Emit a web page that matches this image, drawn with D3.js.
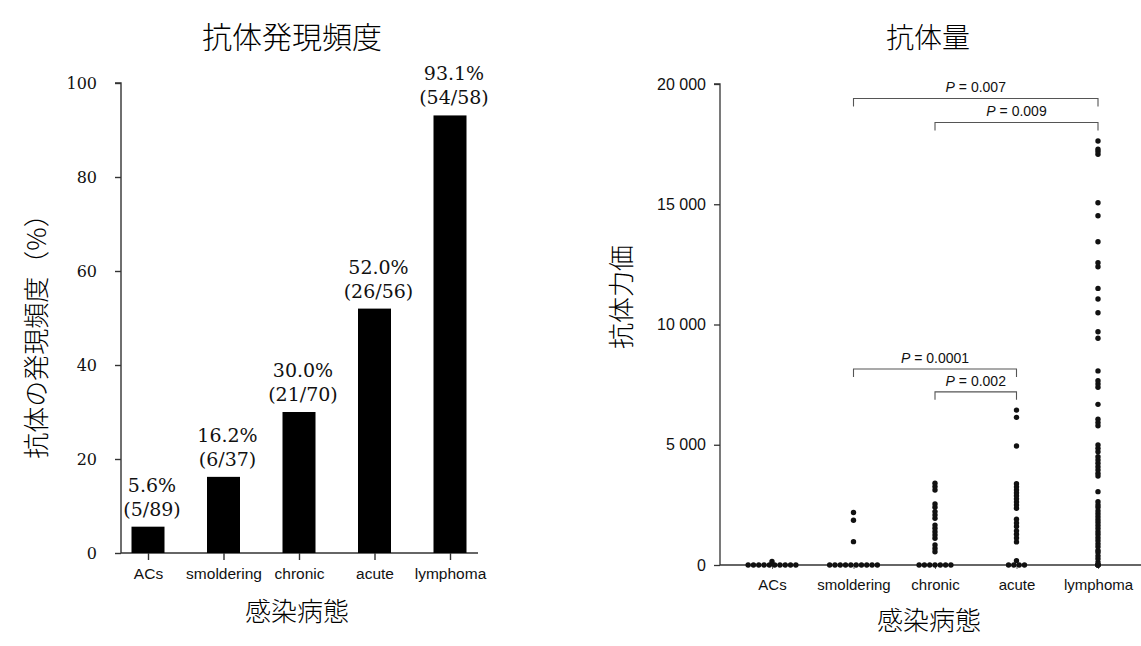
<!DOCTYPE html>
<html>
<head>
<meta charset="utf-8">
<script src="https://cdn.jsdelivr.net/npm/d3@7"></script>
<style>
  body { margin: 0; background: #fff; }
  svg { display: block; }
</style>
</head>
<body>
<svg width="1141" height="646"></svg>
<script>
// left: antibody frequency by disease type
const freqCategories = ["ACs", "smoldering", "chronic", "acute", "lymphoma"];
const freqValues = [5.6, 16.2, 30.0, 52.0, 93.1];
const freqPercentLabels = ["5.6%", "16.2%", "30.0%", "52.0%", "93.1%"];
const freqCountLabels = ["(5/89)", "(6/37)", "(21/70)", "(26/56)", "(54/58)"];
const freqTicks = [0, 20, 40, 60, 80, 100];

// right: antibody titer per patient
const titerCategories = ["ACs", "smoldering", "chronic", "acute", "lymphoma"];
const titerTicks = [0, 5000, 10000, 15000, 20000];
const titerACs = [0, 0, 0, 0, 0, 0, 0, 0, 0, 0, 150];
const titerSmoldering = [0, 0, 0, 0, 0, 0, 0, 0, 0, 0, 970, 1860, 2180];
const titerChronic = [0, 0, 0, 0, 0, 0, 0, 550, 690, 830, 1110, 1250, 1380, 1530, 1660,
  1940, 2080, 2220, 2400, 2540, 3120, 3260, 3400];
const titerAcute = [0, 0, 0, 0, 180, 960, 1120, 1280, 1420, 1600, 1750, 1900, 2360, 2490,
  2620, 2750, 2880, 3000, 3120, 3250, 3380, 4950, 6140, 6440];
const titerLymphoma = [0, 0, 0, 0, 120, 260, 380, 520, 610, 760, 880, 1010, 1130, 1270,
  1380, 1520, 1640, 1770, 1880, 2010, 2130, 2260, 2390, 2500, 2630, 3050, 3700, 3810,
  3950, 4090, 4230, 4370, 4500, 4710, 4850, 4990, 5790, 5920, 6060, 6680, 7390, 7530,
  7660, 8070, 9430, 9700, 10490, 11060, 11500, 12400, 12570, 13440, 14520, 15060,
  17080, 17190, 17290, 17630];
const titerGroups = [titerACs, titerSmoldering, titerChronic, titerAcute, titerLymphoma];
const pFrom = ["smoldering", "chronic", "smoldering", "chronic"];
const pTo = ["lymphoma", "lymphoma", "acute", "acute"];
const pLevels = [19400, 18400, 8150, 7200];
const pTexts = ["0.007", "0.009", "0.0001", "0.002"];

const svg = d3.select("svg");
svg.append("rect").attr("width", 1141).attr("height", 646).attr("fill", "#fff");

const cjk = "'Noto Sans CJK JP', 'Noto Sans CJK SC', sans-serif";
const sans = "'Liberation Sans', Arial, sans-serif";
const serif = "'DejaVu Serif', 'Liberation Serif', serif";

// ---------- left chart ----------
const x1 = d3.scalePoint().domain(freqCategories).range([148, 450]);
const y1 = d3.scaleLinear().domain([0, 100]).range([553, 83]);
const barW = 33;

const left = svg.append("g");

left.append("text")
    .attr("x", 292).attr("y", 48)
    .attr("text-anchor", "middle")
    .style("font-family", cjk).style("font-size", "30px").style("font-weight", 300)
    .text("抗体発現頻度");

const yAx1 = left.append("g")
    .attr("transform", "translate(121,0)")
    .call(d3.axisLeft(y1).tickValues(freqTicks).tickSize(6).tickPadding(18));
yAx1.selectAll("text").style("font-family", serif).style("font-size", "16px").attr("fill", "#111");
yAx1.selectAll("line, path").attr("stroke", "#333").attr("stroke-width", 1.4);
yAx1.select("path").attr("d", `M-6,${y1(100)}H0V${y1(0)}`);

const xAx1 = left.append("g")
    .attr("transform", `translate(0,${y1(0)})`)
    .call(d3.axisBottom(x1).tickSize(7).tickPadding(8));
xAx1.select("path").attr("d", "M121,0H478").attr("stroke", "#333").attr("stroke-width", 1.4);
xAx1.selectAll("line").attr("stroke", "#333").attr("stroke-width", 1.4);
xAx1.selectAll("text").style("font-family", sans).style("font-size", "15.5px").attr("fill", "#111");

left.selectAll("rect.bar")
    .data(freqValues)
    .enter().append("rect")
    .attr("class", "bar")
    .attr("x", (d, i) => x1(freqCategories[i]) - barW / 2)
    .attr("y", d => y1(d))
    .attr("width", barW)
    .attr("height", d => y1(0) - y1(d))
    .attr("fill", "#000");

freqValues.forEach((v, i) => {
  const t = left.append("text")
      .attr("x", x1(freqCategories[i]) + 4)
      .attr("y", y1(v) - 35)
      .attr("text-anchor", "middle")
      .style("font-family", serif).style("font-size", "19px").attr("fill", "#111");
  t.append("tspan").text(freqPercentLabels[i]);
  t.append("tspan").attr("x", x1(freqCategories[i]) + 4).attr("dy", 24).text(freqCountLabels[i]);
});

left.append("text")
    .attr("transform", "translate(46,330) rotate(-90)")
    .attr("text-anchor", "middle")
    .style("font-family", cjk).style("font-size", "26px").style("font-weight", 300)
    .text("抗体の発現頻度（%）");

left.append("text")
    .attr("x", 297).attr("y", 621)
    .attr("text-anchor", "middle")
    .style("font-family", cjk).style("font-size", "26px").style("font-weight", 300)
    .text("感染病態");

// ---------- right chart ----------
const x2 = d3.scalePoint().domain(titerCategories).range([772, 1098]);
const y2 = d3.scaleLinear().domain([0, 20000]).range([565, 84]);
const fmt = d3.formatLocale({ thousands: " ", grouping: [3], decimal: "." }).format(",");

const right = svg.append("g");

right.append("text")
    .attr("x", 928).attr("y", 48)
    .attr("text-anchor", "middle")
    .style("font-family", cjk).style("font-size", "28px").style("font-weight", 300)
    .text("抗体量");

const yAx2 = right.append("g")
    .attr("transform", "translate(720,0)")
    .call(d3.axisLeft(y2).tickValues(titerTicks).tickFormat(fmt).tickSize(6).tickPadding(8));
yAx2.selectAll("text").style("font-family", sans).style("font-size", "16px").attr("fill", "#111");
yAx2.selectAll("line, path").attr("stroke", "#333").attr("stroke-width", 1.3);
yAx2.select("path").attr("d", `M-6,${y2(20000)}H0V${y2(0)}`);

const xAx2 = right.append("g")
    .attr("transform", `translate(0,${y2(0)})`)
    .call(d3.axisBottom(x2).tickSize(4).tickPadding(10));
xAx2.select("path").attr("d", "M720,0H1141").attr("stroke", "#333").attr("stroke-width", 1.3);
xAx2.selectAll("line").attr("stroke", "#666").attr("stroke-width", 1);
xAx2.selectAll("text").style("font-family", sans).style("font-size", "15px").attr("fill", "#111");

// dots: zero values lie side by side on the baseline, others stack in a column
const dots = [];
titerGroups.forEach((vals, gi) => {
  const cat = titerCategories[gi];
  const zeros = vals.filter(v => v === 0).length;
  const spread = cat !== "lymphoma";
  let zi = 0;
  vals.forEach(v => {
    let dx = 0;
    if (v === 0 && spread) { dx = (zi - (zeros - 1) / 2) * 5.3; zi++; }
    dots.push({ cat, v, dx });
  });
});

right.selectAll("circle.dot")
    .data(dots)
    .enter().append("circle")
    .attr("class", "dot")
    .attr("cx", d => x2(d.cat) + d.dx)
    .attr("cy", d => y2(d.v))
    .attr("r", 2.7)
    .attr("fill", "#111");

// significance brackets
pLevels.forEach((lv, i) => {
  const xa = x2(pFrom[i]), xb = x2(pTo[i]), yy = y2(lv);
  right.append("path")
      .attr("d", `M${xa},${yy + 8}V${yy}H${xb}V${yy + 8}`)
      .attr("fill", "none").attr("stroke", "#555").attr("stroke-width", 1.1);
  const t = right.append("text")
      .attr("x", (xa + xb) / 2).attr("y", yy - 6)
      .attr("text-anchor", "middle")
      .style("font-family", sans).style("font-size", "14px").attr("fill", "#111");
  t.append("tspan").style("font-style", "italic").text("P");
  t.append("tspan").text(" = " + pTexts[i]);
});

right.append("text")
    .attr("transform", "translate(631,297) rotate(-90)")
    .attr("text-anchor", "middle")
    .style("font-family", cjk).style("font-size", "26px").style("font-weight", 300)
    .text("抗体力価");

right.append("text")
    .attr("x", 929).attr("y", 630)
    .attr("text-anchor", "middle")
    .style("font-family", cjk).style("font-size", "26px").style("font-weight", 300)
    .text("感染病態");
</script>
</body>
</html>
